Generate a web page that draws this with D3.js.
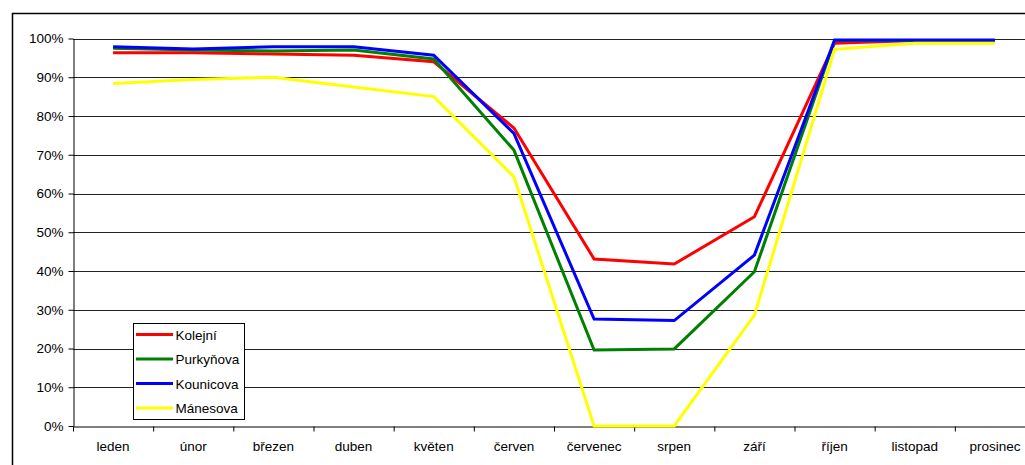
<!DOCTYPE html>
<html>
<head>
<meta charset="utf-8">
<script src="https://cdn.jsdelivr.net/npm/d3@7/dist/d3.min.js"></script>
<style>
  html, body { margin: 0; padding: 0; background: #fff; }
  svg { display: block; }
  text { font-family: "Liberation Sans", Arial, sans-serif; font-size: 13.5px; fill: #000; }
</style>
</head>
<body>
<svg id="chart" width="1025" height="465"></svg>
<script>
const months = ["leden", "únor", "březen", "duben", "květen", "červen", "červenec", "srpen", "září", "říjen", "listopad", "prosinec"];
const seriesNames = ["Kolejní", "Purkyňova", "Kounicova", "Mánesova"];
const kolejni   = [0.963, 0.963, 0.960, 0.957, 0.940, 0.769, 0.431, 0.418, 0.540, 0.988, 0.995, 0.995];
const purkynova = [0.975, 0.970, 0.968, 0.970, 0.947, 0.712, 0.196, 0.199, 0.398, 0.995, 0.995, 0.995];
const kounicova = [0.979, 0.973, 0.979, 0.979, 0.957, 0.755, 0.276, 0.272, 0.441, 0.996, 0.996, 0.996];
const manesova  = [0.884, 0.894, 0.900, 0.875, 0.850, 0.643, 0.000, 0.000, 0.286, 0.972, 0.988, 0.988];
const yTicks = [0, 0.1, 0.2, 0.3, 0.4, 0.5, 0.6, 0.7, 0.8, 0.9, 1.0];
const colors = ["#ff0000", "#008000", "#0000ff", "#ffff00"];
const allSeries = [kolejni, purkynova, kounicova, manesova];

(function () {
const svg = d3.select("#chart");
const pLeft = 73, pRight = 1035, pTop = 38.5, pBottom = 426;

// outer chart border
svg.append("rect").attr("x", 12.5).attr("y", 13.5).attr("width", 1100).attr("height", 600)
  .attr("fill", "#fff").attr("stroke", "#000").attr("stroke-width", 1.5);

const x = d3.scaleBand().domain(months).range([pLeft, pRight]).padding(0);
const xi = d3.scaleLinear().domain([0, months.length]).range([pLeft, pRight]);
const y = d3.scaleLinear().domain([0, 1]).range([pBottom, pTop]);

// gridlines
svg.append("g").selectAll("line").data(yTicks.filter(d => d > 0)).join("line")
  .attr("x1", pLeft).attr("x2", pRight)
  .attr("y1", d => Math.round(y(d)) + 0.5).attr("y2", d => Math.round(y(d)) + 0.5)
  .attr("stroke", "#222").attr("stroke-width", 1);

// y axis
const yAxis = svg.append("g").attr("transform", `translate(${pLeft + 0.5},0)`)
  .call(d3.axisLeft(y).tickValues(yTicks).tickFormat(d3.format(".0%")).tickSize(5).tickSizeOuter(0).tickPadding(5));
yAxis.selectAll("path, line").attr("stroke", "#000");
yAxis.selectAll("text").style("font-family", '"Liberation Sans", Arial, sans-serif').style("font-size", "13.5px").attr("fill", "#000");

// x axis (ticks between categories)
const xAxis = svg.append("g").attr("transform", `translate(0,${pBottom + 0.5})`)
  .call(d3.axisBottom(xi).tickValues(d3.range(0, months.length + 1)).tickFormat("").tickSize(5).tickSizeOuter(0));
xAxis.selectAll("path, line").attr("stroke", "#000");
svg.append("g").selectAll("text").data(months).join("text")
  .attr("x", d => x(d) + x.bandwidth() / 2).attr("y", 450.5)
  .attr("text-anchor", "middle").text(d => d);

// lines
const line = d3.line().x((d, i) => x(months[i]) + x.bandwidth() / 2).y(d => y(d));
svg.append("g").selectAll("path").data(allSeries).join("path")
  .attr("d", d => line(d)).attr("fill", "none")
  .attr("stroke", (d, i) => colors[i]).attr("stroke-width", 3).attr("stroke-linejoin", "miter");

// legend
const lg = svg.append("g");
lg.append("rect").attr("x", 133.5).attr("y", 323.5).attr("width", 111).attr("height", 96)
  .attr("fill", "#fff").attr("stroke", "#000").attr("stroke-width", 1);
const items = lg.selectAll("g.item").data(seriesNames).join("g").attr("class", "item")
  .attr("transform", (d, i) => `translate(0,${334.5 + i * 24.5})`);
items.append("line").attr("x1", 136).attr("x2", 173).attr("y1", 0).attr("y2", 0)
  .attr("stroke", (d, i) => colors[i]).attr("stroke-width", 3);
items.append("text").attr("x", 175.5).attr("y", 5).text(d => d);
})();
</script>
</body>
</html>
